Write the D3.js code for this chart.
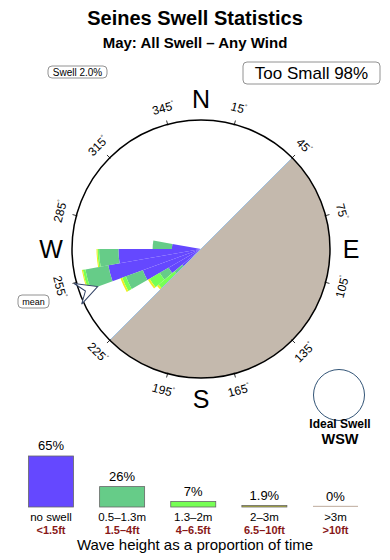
<!DOCTYPE html>
<html>
<head>
<meta charset="utf-8">
<script src="https://cdn.jsdelivr.net/npm/d3@7"></script>
<style>
  body { margin: 0; background: #fff; }
  svg { display: block; font-family: "Liberation Sans", Arial, sans-serif; }
</style>
</head>
<body>
<svg id="chart" width="390" height="560"></svg>
<script>
// direction bins (start angle, 10 deg wide) and stacked share per wave class
const dirBins = [220, 230, 240, 250, 260, 270]
const noSwell = [1.9, 2.9, 4.8, 7.3, 6.4, 2.25]
const h05_13 = [0.8, 0.8, 1.4, 1.8, 1.5, 1.5]
const h13_2 = [1.6, 0.9, 0.3, 0.2, 0.12, 0]
const h2_3 = [0.15, 0.15, 0.15, 0.08, 0.08, 0]
const meanDir = 250

const tickDirs = [15, 45, 75, 105, 135, 165, 195, 225, 255, 285, 315, 345]
const compass = [['N', 0], ['E', 90], ['S', 180], ['W', 270]]
const shadow = [45, 225]

const classNames = ['no swell', '0.5\u20131.3m', '1.3\u20132m', '2\u20133m', '>3m']
const feetNames = ['<1.5ft', '1.5\u20134ft', '4\u20136.5ft', '6.5\u201310ft', '>10ft']
const classPct = [65, 26, 7, 1.9, 0]
const pctLabels = ['65%', '26%', '7%', '1.9%', '0%']
const classColors = ['#6548ff', '#66cc88', '#77ff55', '#bbbb33', '#c8b8ac']
const roseColors = ['#6548ff', '#66cc88', '#77ff55', '#eeee22']

const svg = d3.select('#chart')
const cx = 201, cy = 249, R = 129
const rad = d => d * Math.PI / 180
const pt = (deg, r) => [cx + r * Math.sin(rad(deg)), cy - r * Math.cos(rad(deg))]

// titles
svg.append('text').attr('x', 195).attr('y', 25).attr('text-anchor', 'middle')
  .attr('font-size', 20).attr('font-weight', 'bold').text('Seines Swell Statistics')
svg.append('text').attr('x', 195).attr('y', 48).attr('text-anchor', 'middle')
  .attr('font-size', 15).attr('font-weight', 'bold').text('May: All Swell \u2013 Any Wind')

function boxLabel (x, y, w, h, fs, txt) {
  svg.append('rect').attr('x', x).attr('y', y).attr('width', w).attr('height', h)
    .attr('rx', 4).attr('fill', '#fff').attr('stroke', '#777').attr('stroke-width', 0.8)
  svg.append('text').attr('x', x + w / 2).attr('y', y + h / 2).attr('dy', '0.36em')
    .attr('text-anchor', 'middle').attr('font-size', fs).text(txt)
}
boxLabel(48, 66, 59, 12, 10, 'Swell 2.0%')
boxLabel(243, 62, 137, 22, 17, 'Too Small 98%')
boxLabel(18, 295, 31, 13, 9, 'mean')

// rose
const rScale = d3.scaleLinear().domain([0, 10]).range([0, R])
const table = dirBins.map((d, i) => ({ dir: d, a: noSwell[i], b: h05_13[i], c: h13_2[i], e: h2_3[i] }))
const series = d3.stack().keys(['a', 'b', 'c', 'e'])(table)
const arc = d3.arc()
  .innerRadius(d => rScale(d[0])).outerRadius(d => rScale(d[1]))
  .startAngle(d => rad(d.data.dir)).endAngle(d => rad(d.data.dir + 10))

const rose = svg.append('g').attr('transform', `translate(${cx},${cy})`)
rose.selectAll('g').data(series).join('g')
  .attr('fill', (s, i) => roseColors[i])
  .selectAll('path').data(s => s).join('path')
  .attr('d', arc)

// shaded land half
rose.append('path').attr('fill', '#c4b9ad')
  .attr('d', d3.arc()({ innerRadius: 0, outerRadius: R, startAngle: rad(shadow[0]), endAngle: rad(shadow[1]) }))
const s0 = pt(shadow[0], R), s1 = pt(shadow[1], R)
svg.append('line').attr('x1', s0[0]).attr('y1', s0[1]).attr('x2', s1[0]).attr('y2', s1[1])
  .attr('stroke', '#9fc0e0').attr('stroke-width', 1)

svg.append('circle').attr('cx', cx).attr('cy', cy).attr('r', R)
  .attr('fill', 'none').attr('stroke', '#000').attr('stroke-width', 1.5)

// ticks + labels
tickDirs.forEach(t => {
  const a = pt(t, R - 1), b = pt(t, R + 4)
  svg.append('line').attr('x1', a[0]).attr('y1', a[1]).attr('x2', b[0]).attr('y2', b[1])
    .attr('stroke', '#000').attr('stroke-width', 0.8)
  const p = pt(t, 146)
  const rot = (t > 90 && t < 270) ? t - 180 : t
  const lab = svg.append('text')
    .attr('transform', `translate(${p[0]},${p[1]}) rotate(${rot})`)
    .attr('text-anchor', 'middle').attr('dy', '0.36em').attr('font-size', 12)
  lab.append('tspan').text(t)
  lab.append('tspan').attr('font-size', 6).attr('dy', '-0.9em').text('\u00b0')
})

compass.forEach(([l, d]) => {
  const p = pt(d, 150)
  svg.append('text').attr('x', p[0]).attr('y', p[1]).attr('dy', '0.36em')
    .attr('text-anchor', 'middle').attr('font-size', 25).text(l)
})

// mean arrow
svg.append('path')
  .attr('transform', `translate(${cx},${cy}) rotate(${meanDir})`)
  .attr('d', 'M0,-110 L-11,-131 L0,-123 L11,-131 Z')
  .attr('fill', '#fff').attr('stroke', '#334466').attr('stroke-width', 1)

// ideal swell
svg.append('circle').attr('cx', 339).attr('cy', 395).attr('r', 25.5)
  .attr('fill', '#fff').attr('stroke', '#335577').attr('stroke-width', 1)
svg.append('text').attr('x', 340).attr('y', 428).attr('text-anchor', 'middle')
  .attr('font-size', 12).attr('font-weight', 'bold').text('Ideal Swell')
svg.append('text').attr('x', 340).attr('y', 444).attr('text-anchor', 'middle')
  .attr('font-size', 14.5).attr('font-weight', 'bold').text('WSW')

// bottom legend
const xPos = d3.scalePoint().domain(classNames).range([51, 335.5])
const hScale = d3.scaleLinear().domain([0, 65]).range([0, 51])
const base = 507, bw = 45
const leg = svg.append('g')
leg.selectAll('rect').data(classNames).join('rect')
  .attr('x', d => xPos(d) - bw / 2)
  .attr('y', (d, i) => base - Math.max(hScale(classPct[i]), 1.2))
  .attr('width', bw)
  .attr('height', (d, i) => Math.max(hScale(classPct[i]), 1.2))
  .attr('fill', (d, i) => classColors[i])
  .attr('stroke', (d, i) => classPct[i] > 0 ? '#666' : 'none').attr('stroke-width', 0.8)
leg.selectAll('.pct').data(classNames).join('text').attr('class', 'pct')
  .attr('x', d => xPos(d)).attr('y', (d, i) => base - hScale(classPct[i]) - 6)
  .attr('text-anchor', 'middle').attr('font-size', 13).text((d, i) => pctLabels[i])
leg.selectAll('.cls').data(classNames).join('text').attr('class', 'cls')
  .attr('x', d => xPos(d)).attr('y', 521)
  .attr('text-anchor', 'middle').attr('font-size', 11.5).text(d => d)
leg.selectAll('.ft').data(feetNames).join('text').attr('class', 'ft')
  .attr('x', (d, i) => xPos(classNames[i])).attr('y', 534)
  .attr('text-anchor', 'middle').attr('font-size', 11).attr('font-weight', 'bold')
  .attr('fill', '#881818').text(d => d)
svg.append('text').attr('x', 195).attr('y', 550).attr('text-anchor', 'middle')
  .attr('font-size', 15).text('Wave height as a proportion of time')
</script>
</body>
</html>
